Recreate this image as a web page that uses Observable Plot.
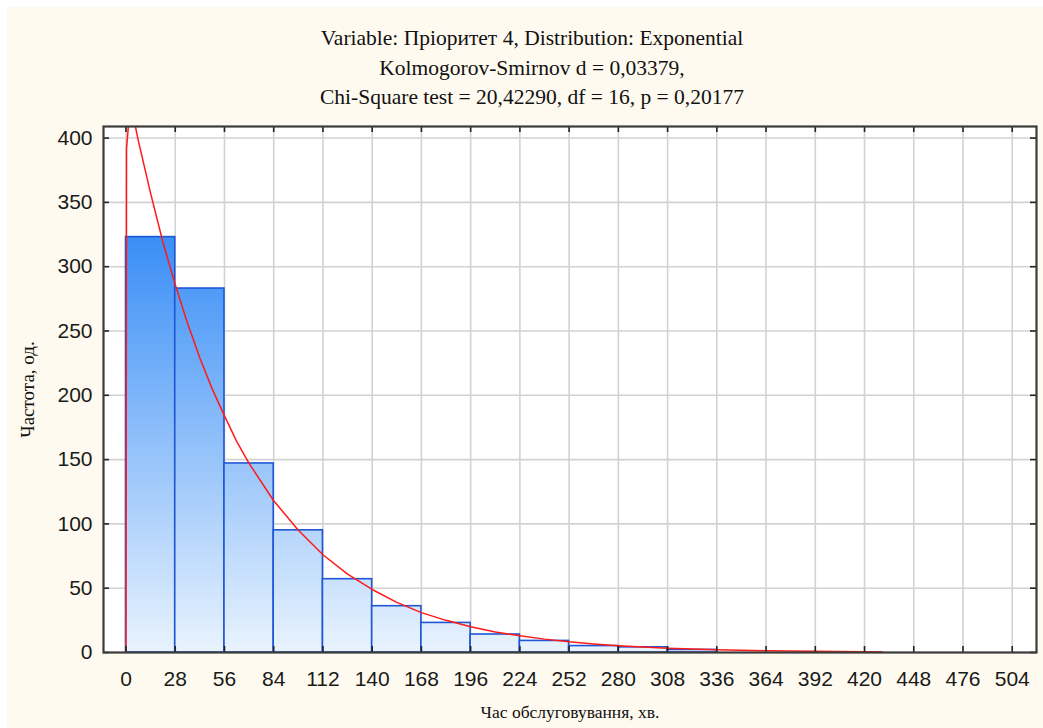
<!DOCTYPE html>
<html><head><meta charset="utf-8">
<script src="https://cdn.jsdelivr.net/npm/d3@7"></script>
<script src="https://cdn.jsdelivr.net/npm/@observablehq/plot@0.6"></script>
<style>
html,body{margin:0;padding:0;background:#fff;}
#wrap{position:relative;width:1043px;height:728px;overflow:hidden;}
#bg{position:absolute;left:7px;top:7px;right:0;bottom:0;background:#fffaef;}
.t{position:absolute;left:532px;transform:translateX(-50%);white-space:nowrap;font-family:"Liberation Serif",serif;font-size:21.5px;color:#111;line-height:22px;}
#chart{position:absolute;left:0;top:116px;}
</style></head>
<body><div id="wrap"><div id="bg"></div>
<div class="t" id="t1" style="top:27px"></div>
<div class="t" id="t2" style="top:57px"></div>
<div class="t" id="t3" style="top:86px"></div>
<div id="chart"></div></div>
<script>
const titleLines = [
  "Variable: Пріоритет 4, Distribution: Exponential",
  "Kolmogorov-Smirnov d = 0,03379,",
  "Chi-Square test = 20,42290, df = 16, p = 0,20177"
];
const xLabel = "Час обслуговування, хв.";
const yLabel = "Частота, од.";
const binStart = [0, 28, 56, 84, 112, 140, 168, 196, 224, 252, 280, 308];
const binEnd   = [28, 56, 84, 112, 140, 168, 196, 224, 252, 280, 308, 336];
const counts   = [323, 283, 147, 95, 57, 36, 23, 14, 9, 5, 4, 2];
const curveX = [0, 0.3, 2.5, 7, 14, 21, 28, 35, 42, 49, 56, 63, 70, 84, 98, 112, 126, 140, 154, 168, 182, 196, 210, 224, 238, 252, 266, 280, 294, 308, 336, 364, 392, 420, 430];
const curveY = [0, 392, 428, 398, 357, 319, 286, 256, 229, 205, 184, 164, 147, 118, 95, 76, 61, 49, 39, 31, 25, 20, 16, 13, 10.4, 8.3, 6.7, 5.3, 4.3, 3.4, 2.2, 1.4, 0.9, 0.6, 0.5];
const xTicks = [0, 28, 56, 84, 112, 140, 168, 196, 224, 252, 280, 308, 336, 364, 392, 420, 448, 476, 504];
const yTicks = [0, 50, 100, 150, 200, 250, 300, 350, 400];

titleLines.forEach((s, i) => document.getElementById("t" + (i + 1)).textContent = s);

const bars = binStart.map((s, i) => ({x1: s, x2: binEnd[i], count: counts[i]}));
const curve = curveX.map((x, i) => ({x, y: curveY[i]}));

const W = 1043, H = 612, mT = 10, mB = 76, mL = 103, mR = 7;
const FW = W - mL - mR, FH = H - mT - mB;
const tickLen = 6;
const sans = "'Liberation Sans', Arial, sans-serif";
const serif = "'Liberation Serif', 'Times New Roman', serif";

const chart = Plot.plot({
  width: W, height: H,
  marginTop: mT, marginBottom: mB, marginLeft: mL, marginRight: mR,
  style: {background: "transparent", fontFamily: sans, fontSize: "21px", color: "#1a1a1a"},
  x: {domain: [-12.8, 517.8]},
  y: {domain: [0, 409]},
  marks: [
    Plot.frame({fill: "white", stroke: null}),
    Plot.gridX(xTicks, {stroke: "#d2d2d2", strokeOpacity: 1, strokeWidth: 1.6}),
    Plot.gridY(yTicks, {stroke: "#d2d2d2", strokeOpacity: 1, strokeWidth: 1.6}),
    Plot.rect(bars, {x1: "x1", x2: "x2", y1: 0, y2: "count", fill: "url(#barGrad)", stroke: "#1f56d6", strokeWidth: 1.6}),
    Plot.line(curve, {x: "x", y: "y", stroke: "#ff1a1a", strokeWidth: 1.5, clip: true}),
    Plot.tickX(xTicks, {x: d => d, insetTop: FH - tickLen, stroke: "#222", strokeWidth: 1.6}),
    Plot.tickX(xTicks, {x: d => d, insetBottom: FH - tickLen, stroke: "#222", strokeWidth: 1.6}),
    Plot.tickY(yTicks, {y: d => d, insetRight: FW - tickLen, stroke: "#222", strokeWidth: 1.6}),
    Plot.tickY(yTicks, {y: d => d, insetLeft: FW - tickLen, stroke: "#222", strokeWidth: 1.6}),
    Plot.frame({stroke: "#3c3c3c", strokeWidth: 2.2}),
    Plot.axisX(xTicks, {tickSize: 0, tickPadding: 19, fontSize: 21, fontFamily: sans, label: null}),
    Plot.axisY(yTicks, {tickSize: 0, tickPadding: 11, fontSize: 21, fontFamily: sans, label: null}),
    Plot.text([xLabel], {frameAnchor: "bottom", dy: 65, text: d => d, textAnchor: "middle", fontFamily: serif, fontSize: 17.5, fill: "#111"}),
    Plot.text([yLabel], {frameAnchor: "left", dx: -76, rotate: -90, text: d => d, textAnchor: "middle", fontFamily: serif, fontSize: 19, fill: "#111"})
  ]
});

const ys = chart.scale("y");
const gy1 = ys.apply(counts[0]), gy2 = ys.apply(0);
const defs = d3.select(chart).insert("defs", ":first-child");
const g = defs.append("linearGradient").attr("id", "barGrad")
  .attr("gradientUnits", "userSpaceOnUse")
  .attr("x1", 0).attr("x2", 0).attr("y1", gy1).attr("y2", gy2);
g.append("stop").attr("offset", 0).attr("stop-color", "#3a8ef6");
g.append("stop").attr("offset", 1).attr("stop-color", "#e9f3fe");

document.getElementById("chart").appendChild(chart);
</script>
</body></html>
